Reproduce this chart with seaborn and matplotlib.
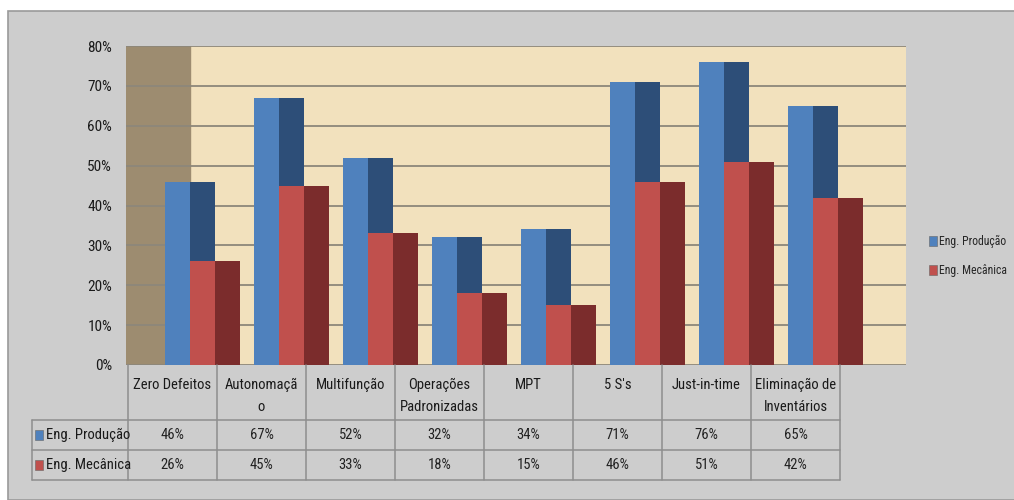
import matplotlib
matplotlib.use('Agg')
import matplotlib.pyplot as plt
import seaborn as sns
import pandas as pd
import numpy as np
from matplotlib.patches import Rectangle, Patch
from matplotlib.lines import Line2D

# dados
categorias = ['Zero Defeitos', 'Autonomaçã\no', 'Multifunção', 'Operações\nPadronizadas',
              'MPT', '5 S\'s', 'Just-in-time', 'Eliminação de\nInventários']
eng_producao = [46, 67, 52, 32, 34, 71, 76, 65]
eng_mecanica = [26, 45, 33, 18, 15, 46, 51, 42]
series = ['Eng. Produção', 'Eng. Mecânica']
y_ticks = [0, 10, 20, 30, 40, 50, 60, 70, 80]

# cores (face clara / lateral escura)
azul, azul_esc = '#4f81bd', '#2d4e78'
verm, verm_esc = '#c0504d', '#7b2c2c'
fundo = '#cdcdcd'

sns.set_theme(style='white')
plt.rcParams['font.family'] = ['Roboto Condensed', 'DejaVu Sans']
fs = 10.5

W, H = 1014, 500
fig = plt.figure(figsize=(W / 100, H / 100), dpi=100)
fig.patch.set_facecolor('white')

def fx(px):
    return px / W

def fy(py):
    return 1 - py / H

# moldura cinza do gráfico
fig.patches.append(Rectangle((fx(8), 0), 1, fy(11), transform=fig.transFigure,
                             facecolor=fundo, edgecolor='#9a9a9a', lw=1.2, zorder=-10))

# area do grafico
ax = fig.add_axes([fx(126), fy(365), fx(906) - fx(126), fy(46) - fy(365)])
ax.set_facecolor('#f2e1bd')

pos = np.arange(len(categorias))
df = pd.DataFrame({'pos': pos, 'prod': eng_producao, 'mec': eng_mecanica})

# parede lateral (efeito 3D)
x0 = -0.522
ax.axvspan(x0, 0.197, color='#9d8c70', zorder=0)
for v in y_ticks:
    ax.axhline(v, color='#8d877a', lw=1.3, zorder=1)

larg = 0.28
pecas = [('prod', 0.056, azul), ('prod', 0.337, azul_esc),
         ('mec', 0.337, verm), ('mec', 0.618, verm_esc)]
for col, off, cor in pecas:
    sns.barplot(x=df['pos'] + off, y=df[col], native_scale=True, width=larg,
                color=cor, saturation=1, linewidth=0, orient='x', ax=ax, zorder=3)

ax.set_xlim(x0, 8.242)
ax.set_ylim(0, 80)
ax.set_xticks([])
ax.set_yticks(y_ticks)
ax.set_yticklabels([f'{v}%' for v in y_ticks], fontsize=11, color='#1a1a1a')
ax.tick_params(axis='y', length=0, pad=10)
ax.set_xlabel('')
ax.set_ylabel('')
for s in ax.spines.values():
    s.set_visible(False)

# tabela de dados
col_l, col_w = 128, 89
lab_l = 32
y_top, y_r1, y_r2, y_bot = 365, 420, 450, 480
cor_linha = '#8e8e8e'

def linha(x1, y1, x2, y2):
    fig.add_artist(Line2D([fx(x1), fx(x2)], [fy(y1), fy(y2)], color=cor_linha, lw=1.1))

col_r = col_l + col_w * len(categorias)
for i in range(len(categorias) + 1):
    xx = col_l + col_w * i
    linha(xx, y_top, xx, y_bot)
linha(lab_l, y_r1, lab_l, y_bot)
for yy in (y_r1, y_r2, y_bot):
    linha(lab_l, yy, col_r, yy)

for i, cat in enumerate(categorias):
    cx = col_l + col_w * (i + 0.5)
    fig.text(fx(cx), fy(378), cat, ha='center', va='top', fontsize=fs,
             color='#1a1a1a', linespacing=1.75)
    fig.text(fx(cx), fy((y_r1 + y_r2) / 2), f'{eng_producao[i]}%', ha='center',
             va='center', fontsize=fs, color='#222222')
    fig.text(fx(cx), fy((y_r2 + y_bot) / 2), f'{eng_mecanica[i]}%', ha='center',
             va='center', fontsize=fs, color='#222222')

for nome, cor, (ya, yb) in zip(series, [azul, verm], [(y_r1, y_r2), (y_r2, y_bot)]):
    ym = (ya + yb) / 2
    fig.patches.append(Rectangle((fx(35), fy(ym + 5)), fx(8), fy(ym - 5) - fy(ym + 5),
                                 transform=fig.transFigure, facecolor=cor,
                                 edgecolor='#666666', lw=0.4))
    fig.text(fx(46), fy(ym), nome, ha='left', va='center', fontsize=fs, color='#1a1a1a')

# legenda
handles = [Patch(facecolor=azul, edgecolor='#666666', lw=0.4),
           Patch(facecolor=verm, edgecolor='#666666', lw=0.4)]
fig.legend(handles, series, loc='center left', bbox_to_anchor=(fx(924), fy(256)),
           frameon=False, fontsize=8.5, handlelength=0.7, handleheight=0.85,
           handletextpad=0.2, labelspacing=1.35, borderaxespad=0)

fig.savefig('out.png', dpi=100, facecolor=fig.get_facecolor())
